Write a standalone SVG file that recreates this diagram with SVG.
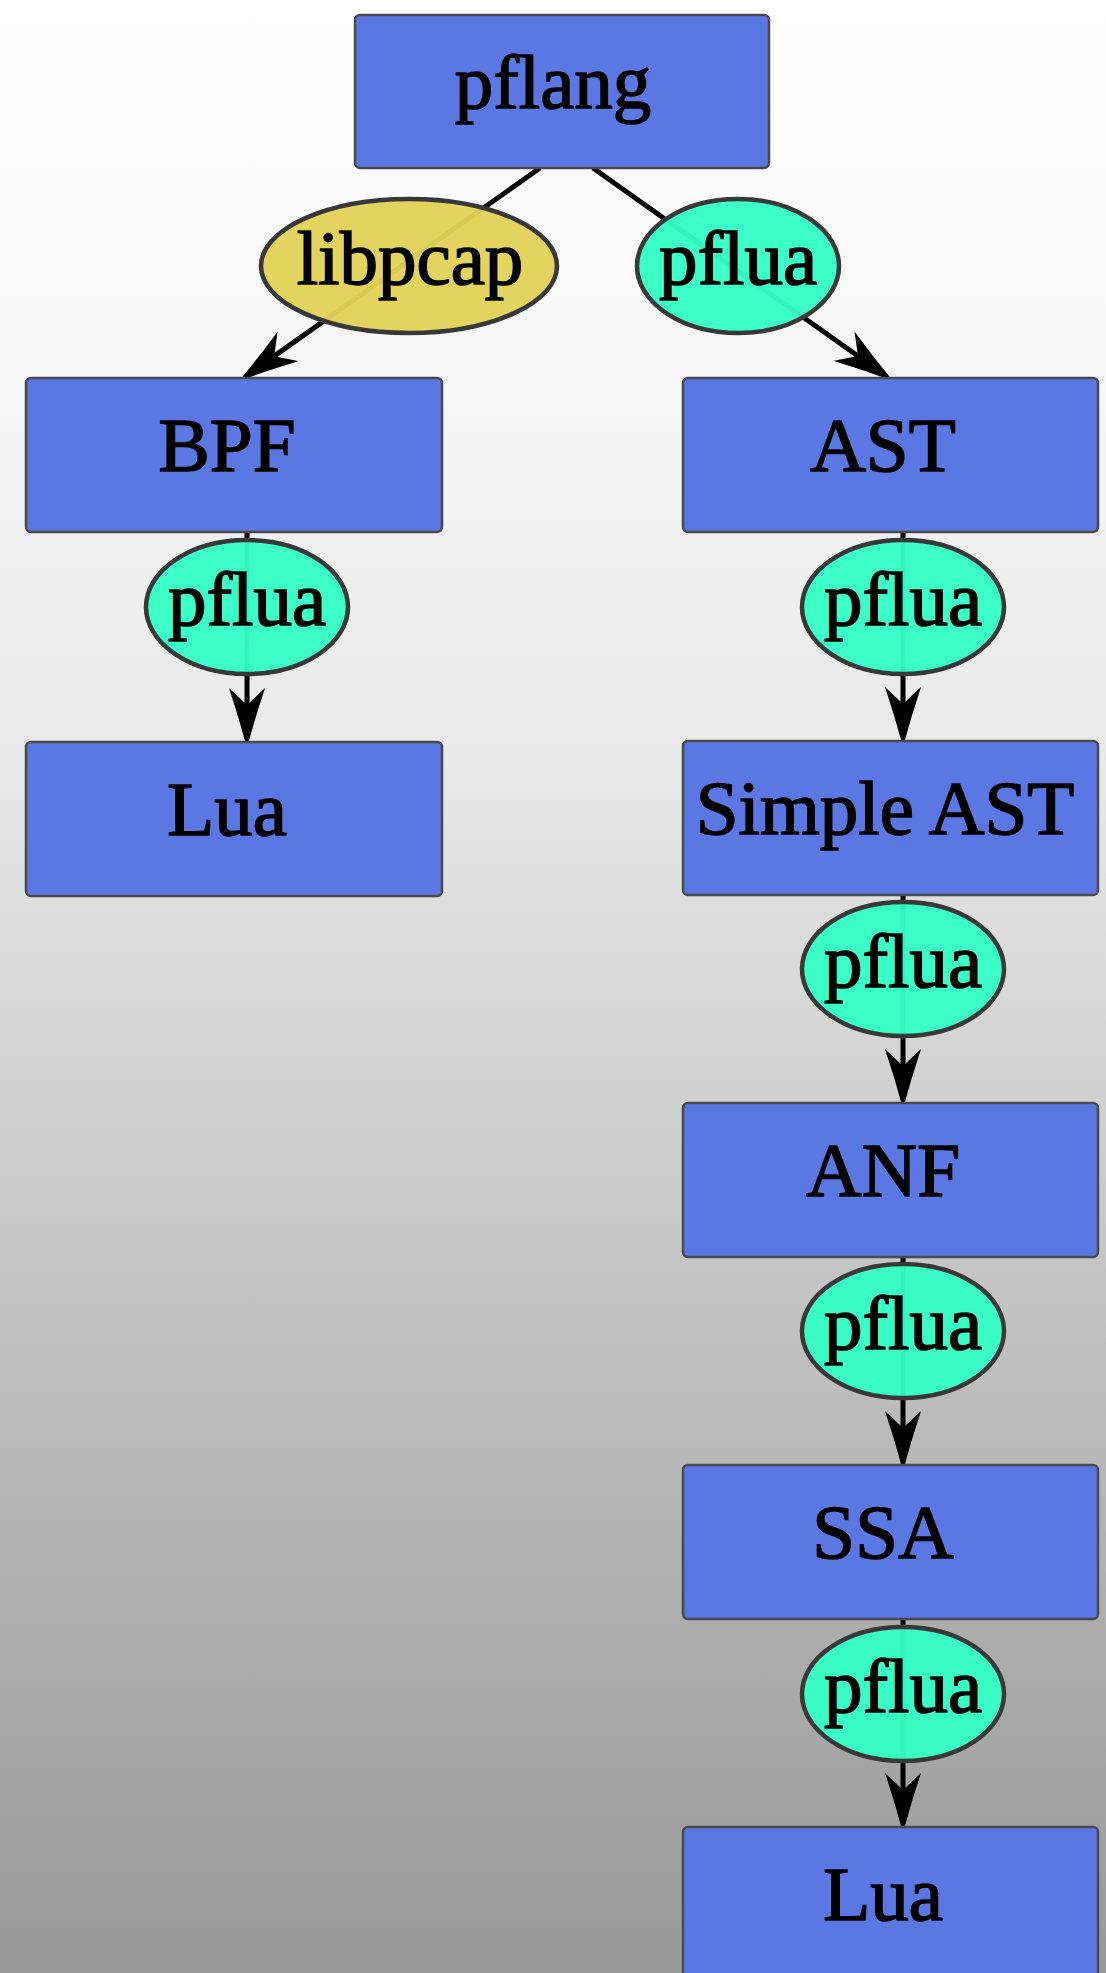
<svg xmlns="http://www.w3.org/2000/svg" width="1106" height="1973" viewBox="0 0 1106 1973">
<defs>
<linearGradient id="bg" x1="0" y1="0" x2="0" y2="1">
<stop offset="0" stop-color="#ffffff"/>
<stop offset="0.05" stop-color="#fdfdfd"/>
<stop offset="0.2" stop-color="#f6f6f6"/>
<stop offset="0.38" stop-color="#e9e9e9"/>
<stop offset="0.5" stop-color="#d8d8d8"/>
<stop offset="0.76" stop-color="#b5b5b5"/>
<stop offset="1" stop-color="#989898"/>
</linearGradient>
<marker id="arr" viewBox="0 0 60 36" refX="20" refY="18" markerWidth="60" markerHeight="36" markerUnits="userSpaceOnUse" orient="auto">
<path d="M0,0 Q30,10 60,18 Q30,26 0,36 L17,18 Z" fill="#000"/>
</marker>
<style>
.box{fill:#5a77e3;stroke:#4a4a4a;stroke-width:2.5}
.lbl{stroke:#383838;stroke-width:4.5;fill-opacity:0.96}
.pf{fill:#33ffc4}
.lp{fill:#e2d158}
.t{font-family:"Liberation Serif","Times New Roman",serif;font-size:77px;fill:#000;stroke:#000;stroke-width:1.6;text-anchor:middle}
.edge{stroke:#000;stroke-width:5;fill:none;marker-end:url(#arr)}
</style>
</defs>
<rect x="0" y="0" width="1106" height="1973" fill="url(#bg)"/>
<g id="connectors">
<path class="edge" d="M540,168 L271.7,357.9"/>
<path class="edge" d="M593,168 L860.4,357.8"/>
<path class="edge" d="M247,532 L247,708"/>
<path class="edge" d="M903,532 L903,707"/>
<path class="edge" d="M903,895 L903,1069"/>
<path class="edge" d="M903,1257 L903,1431"/>
<path class="edge" d="M903,1619 L903,1793"/>
</g>
<g id="n-pflang"><rect class="box" x="355" y="15" width="414" height="153" rx="5"/><text class="t" x="553" y="108">pflang</text></g>
<g id="n-bpf"><rect class="box" x="26" y="378" width="416" height="154" rx="5"/><text class="t" x="227" y="471">BPF</text></g>
<g id="n-lua1"><rect class="box" x="26" y="742" width="416" height="154" rx="5"/><text class="t" x="227" y="835">Lua</text></g>
<g id="n-ast"><rect class="box" x="683" y="378" width="415" height="154" rx="5"/><text class="t" x="883" y="471">AST</text></g>
<g id="n-simpleast"><rect class="box" x="683" y="741" width="415" height="154" rx="5"/><text class="t" x="885" y="834">Simple AST</text></g>
<g id="n-anf"><rect class="box" x="683" y="1103" width="415" height="154" rx="5"/><text class="t" x="883" y="1196">ANF</text></g>
<g id="n-ssa"><rect class="box" x="683" y="1465" width="415" height="154" rx="5"/><text class="t" x="883" y="1558">SSA</text></g>
<g id="n-lua2"><rect class="box" x="683" y="1827" width="415" height="154" rx="5"/><text class="t" x="883" y="1920">Lua</text></g>
<g id="l-libpcap"><ellipse class="lbl lp" cx="409" cy="266" rx="148" ry="67"/><text class="t" x="410" y="284">libpcap</text></g>
<g id="l-pflua0"><ellipse class="lbl pf" cx="738" cy="266" rx="101" ry="67"/><text class="t" x="738" y="284">pflua</text></g>
<g id="l-pflua1"><ellipse class="lbl pf" cx="247" cy="607" rx="101" ry="67"/><text class="t" x="247" y="625">pflua</text></g>
<g id="l-pflua2"><ellipse class="lbl pf" cx="903" cy="607" rx="101" ry="67"/><text class="t" x="903" y="625">pflua</text></g>
<g id="l-pflua3"><ellipse class="lbl pf" cx="903" cy="969" rx="101" ry="67"/><text class="t" x="903" y="987">pflua</text></g>
<g id="l-pflua4"><ellipse class="lbl pf" cx="903" cy="1331" rx="101" ry="67"/><text class="t" x="903" y="1349">pflua</text></g>
<g id="l-pflua5"><ellipse class="lbl pf" cx="903" cy="1694" rx="101" ry="67"/><text class="t" x="903" y="1712">pflua</text></g>
</svg>
